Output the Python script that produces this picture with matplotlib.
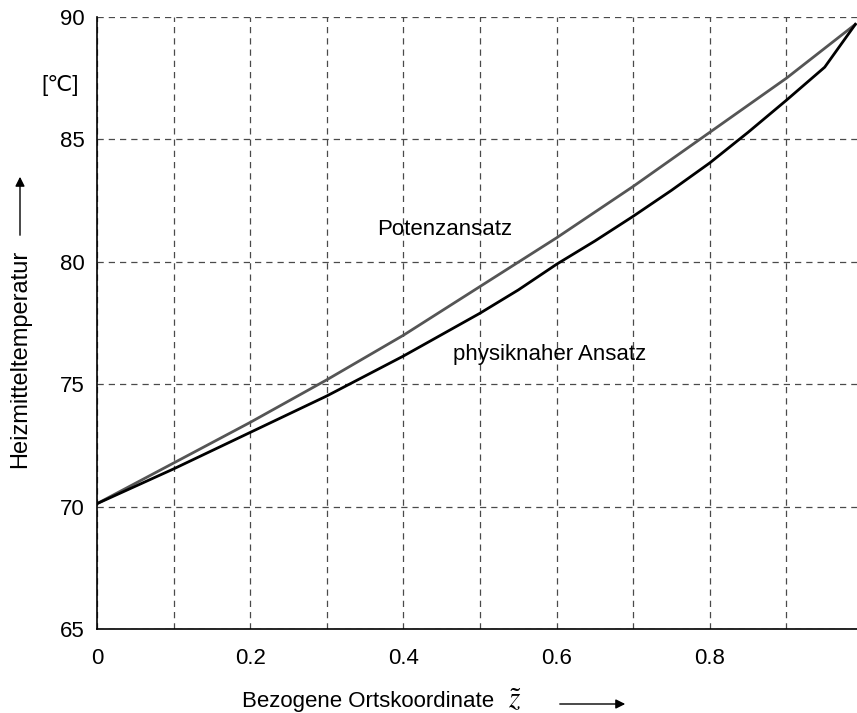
import matplotlib
matplotlib.use('Agg')
import matplotlib.pyplot as plt

plt.rcParams['font.family'] = ['Liberation Sans', 'DejaVu Sans']
plt.rcParams['mathtext.fontset'] = 'stix'

# Potenzansatz (grey)
z_pot = [0, 0.1, 0.2, 0.3, 0.4, 0.5, 0.6, 0.7, 0.8, 0.9, 0.99]
T_pot = [70.12, 71.78, 73.44, 75.18, 77.0, 78.99, 80.98, 83.08, 85.29, 87.5, 89.7]

# physiknaher Ansatz (black)
z_phys = [0, 0.1, 0.2, 0.3, 0.4, 0.5, 0.55, 0.6, 0.65, 0.7, 0.75, 0.8,
          0.85, 0.9, 0.95, 0.99]
T_phys = [70.12, 71.54, 73.03, 74.52, 76.15, 77.9, 78.85, 79.9, 80.85, 81.86,
          82.92, 84.04, 85.29, 86.6, 87.95, 89.7]

xticks = [0, 0.2, 0.4, 0.6, 0.8]
xtick_labels = ['0', '0.2', '0.4', '0.6', '0.8']
yticks = [65, 70, 75, 80, 85, 90]

W, H = 857, 713
fig = plt.figure(figsize=(W / 100, H / 100), dpi=100)
ax = fig.add_axes([97 / W, 84 / H, 766 / W, 612 / H])

ax.plot(z_pot, T_pot, color='#555555', lw=2.0)
ax.plot(z_phys, T_phys, color='black', lw=2.0)

ax.set_xlim(0, 1)
ax.set_ylim(65, 90)
ax.set_xticks(xticks)
ax.set_xticklabels(xtick_labels)
ax.set_xticks([0.1, 0.3, 0.5, 0.7, 0.9], minor=True)
ax.set_yticks(yticks)
ax.tick_params(axis='both', which='both', length=0, labelsize=16)
ax.tick_params(axis='x', pad=14)
ax.tick_params(axis='y', pad=9)
ax.grid(True, which='both', color='#4a4a4a', linestyle=(0, (5, 4)), lw=0.9)
ax.spines['top'].set_visible(False)
ax.spines['right'].set_visible(False)
ax.spines['left'].set_linewidth(1.2)
ax.spines['bottom'].set_linewidth(1.2)

ax.text(0.366, 81.3, 'Potenzansatz', fontsize=16, va='center', ha='left')
ax.text(0.465, 76.2, 'physiknaher Ansatz', fontsize=16, va='center', ha='left')

fig.text(60 / W, 1 - 85 / H, '[\u2103]', fontsize=16, ha='center', va='center')

# y label with arrow
fig.text(20 / W, 1 - 359 / H, 'Heizmitteltemperatur', fontsize=17,
         rotation=90, ha='center', va='center')
fig.add_artist(matplotlib.patches.FancyArrowPatch(
    (20 / W, 1 - 238 / H), (20 / W, 1 - 174 / H), transform=fig.transFigure,
    arrowstyle='-|>', mutation_scale=14, color='black', lw=1))

# x label with arrow
fig.text(242 / W, 1 - 702 / H, 'Bezogene Ortskoordinate', fontsize=16,
         ha='left', va='center')
fig.text(508 / W, 1 - 700 / H, r'$\tilde{z}$', fontsize=21, ha='left', va='center')
fig.add_artist(matplotlib.patches.FancyArrowPatch(
    (557 / W, 1 - 704 / H), (628 / W, 1 - 704 / H), transform=fig.transFigure,
    arrowstyle='-|>', mutation_scale=14, color='black', lw=1))

fig.savefig('out.png', dpi=100)
